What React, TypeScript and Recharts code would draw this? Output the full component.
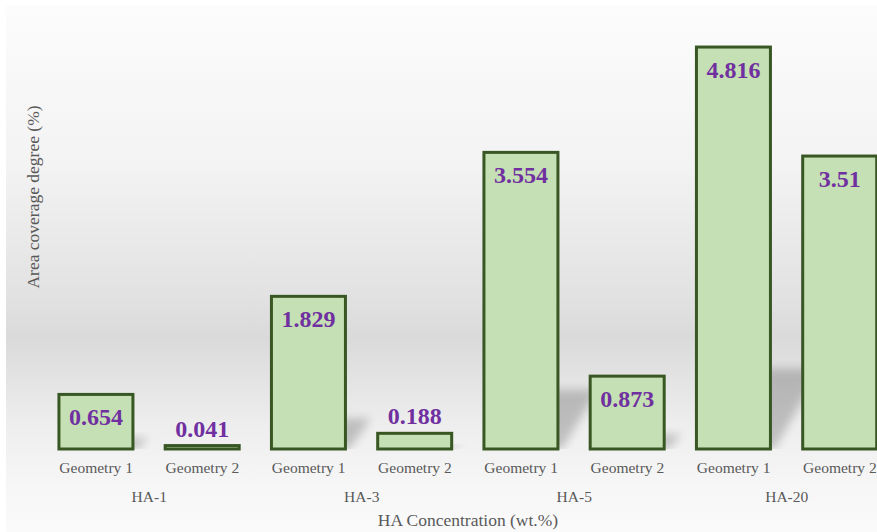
import React from "react";
import { BarChart, Bar, XAxis, YAxis, LabelList } from "recharts";

const geometries = [
  "Geometry 1",
  "Geometry 2",
  "Geometry 1",
  "Geometry 2",
  "Geometry 1",
  "Geometry 2",
  "Geometry 1",
  "Geometry 2",
];
const concentrations = ["HA-1", "HA-1", "HA-3", "HA-3", "HA-5", "HA-5", "HA-20", "HA-20"];
const coverage = [0.654, 0.041, 1.829, 0.188, 3.554, 0.873, 4.816, 3.51];

const data = geometries.map((g, i) => ({
  geometry: g,
  group: concentrations[i],
  value: coverage[i],
}));

const SERIF = '"Liberation Serif", "Times New Roman", serif';
const AXIS_TEXT = "#595959";
const BAR_FILL = "#c5e0b4";
const BAR_STROKE = "#385723";
const LABEL_COLOR = "#7030a0";

// bar with a soft skewed shadow cast up and to the right
function ShadowBar(props: any) {
  const { x, y, width, height, index } = props;
  if (height == null || width == null) return null;
  const base = y + height;
  const rise = height * 0.2;
  const shift = rise * 0.5 + 6;
  const clipId = `shadow-clip-${index}`;
  const pts = [
    [x + 4, base],
    [x + width + 4, base],
    [x + width + 4 + shift, base - rise],
    [x + 4 + shift, base - rise],
  ]
    .map((p) => p.join(","))
    .join(" ");
  return (
    <g>
      <clipPath id={clipId}>
        <rect x={x - 20} y={0} width={width + 200} height={base} />
      </clipPath>
      <g clipPath={`url(#${clipId})`}>
        <polygon points={pts} fill="#000" opacity={0.2} filter="url(#barShadowBlur)" />
      </g>
      <rect x={x} y={y} width={width} height={height} fill={BAR_FILL} stroke={BAR_STROKE} strokeWidth={3} />
    </g>
  );
}

function ValueLabel(props: any) {
  const { x, y, width, height, value } = props;
  const inside = height > 40;
  return (
    <text
      x={x + width / 2}
      y={inside ? y + 31 : y - 9}
      textAnchor="middle"
      fill={LABEL_COLOR}
      fontFamily={SERIF}
      fontWeight="bold"
      fontSize={24}
    >
      {value}
    </text>
  );
}

function GeometryTick(props: any) {
  const { x, y, payload } = props;
  return (
    <text x={x} y={y + 16} textAnchor="middle" fill={AXIS_TEXT} fontFamily={SERIF} fontSize={15.5}>
      {payload.value}
    </text>
  );
}

function GroupTick(props: any) {
  const { x, y, payload } = props;
  return (
    <text x={x} y={y + 15} textAnchor="middle" fill={AXIS_TEXT} fontFamily={SERIF} fontSize={15.5}>
      {payload.value}
    </text>
  );
}

export default function App() {
  return (
    <div
      style={{
        position: "absolute",
        left: 0,
        top: 0,
        width: 877,
        height: 532,
        overflow: "hidden",
        background: "#fff",
      }}
    >
      <div
        style={{
          position: "absolute",
          left: 6,
          top: 6,
          right: 0,
          bottom: 0,
          background:
            "linear-gradient(to bottom, #fcfcfc 0%, #f3f3f3 30%, #e2e2e2 55%, #dadada 63%, #eeeeee 80%, #f7f7f7 92%, #fafafa 100%)",
        }}
      />
      <svg width={0} height={0} style={{ position: "absolute" }}>
        <defs>
          <filter id="barShadowBlur" x="-50%" y="-50%" width="200%" height="200%">
            <feGaussianBlur stdDeviation={5} />
          </filter>
        </defs>
      </svg>
      {/* vertical axis title */}
      <svg width={60} height={532} style={{ position: "absolute", left: 0, top: 0 }}>
        <text
          x={33}
          y={197}
          transform="rotate(-90 33 197)"
          textAnchor="middle"
          dominantBaseline="central"
          fill={AXIS_TEXT}
          fontFamily={SERIF}
          fontSize={17.5}
        >
          Area coverage degree (%)
        </text>
      </svg>
      <div style={{ position: "absolute", left: 0, top: 0 }}>
        <BarChart
          width={900}
          height={532}
          data={data}
          margin={{ top: 15, right: 7, bottom: 23, left: 43 }}
          barCategoryGap="15%"
        >
          <YAxis hide domain={[0, 5.2]} />
          <XAxis dataKey="geometry" height={30} axisLine={false} tickLine={false} interval={0} tick={<GeometryTick />} />
          <XAxis
            xAxisId="group"
            dataKey="group"
            allowDuplicatedCategory={false}
            height={30}
            axisLine={false}
            tickLine={false}
            interval={0}
            tick={<GroupTick />}
            label={{
              value: "HA Concentration (wt.%)",
              position: "bottom",
              offset: 5,
              fill: AXIS_TEXT,
              fontFamily: SERIF,
              fontSize: 17.5,
            }}
          />
          <Bar dataKey="value" shape={<ShadowBar />} isAnimationActive={false}>
            <LabelList dataKey="value" content={<ValueLabel />} />
          </Bar>
        </BarChart>
      </div>
    </div>
  );
}
